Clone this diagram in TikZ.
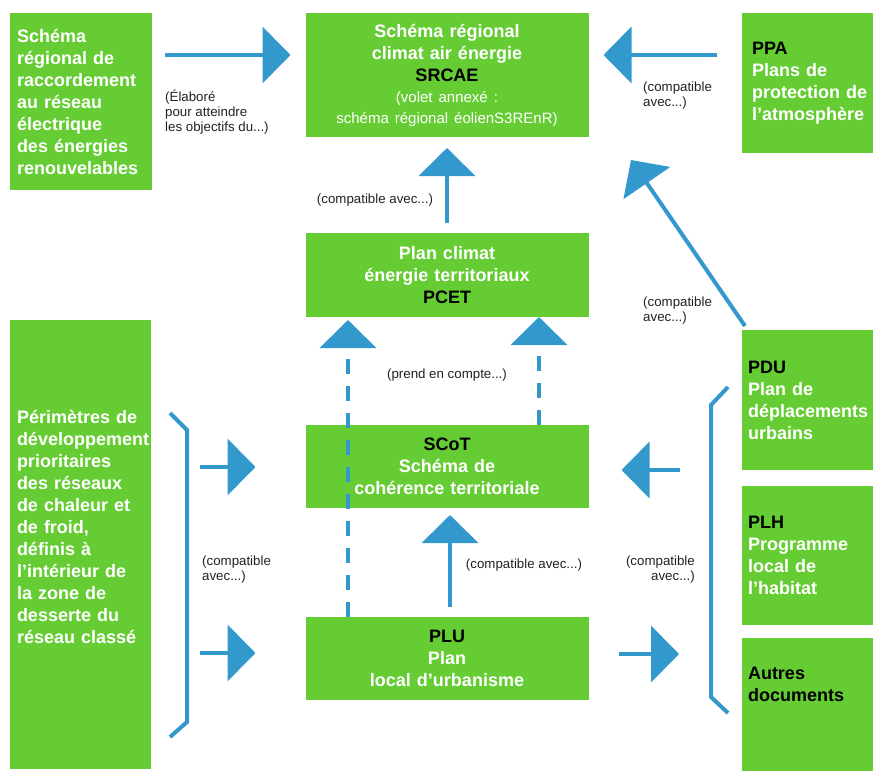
\documentclass[tikz,border=0pt]{standalone}
\usepackage{fontspec}
\setmainfont{Liberation Sans}
\usetikzlibrary{arrows.meta,calc}
\definecolor{boxgreen}{RGB}{102,204,51}
\definecolor{arrblue}{RGB}{51,153,204}
\definecolor{labgray}{RGB}{34,34,34}
\begin{document}
\begin{tikzpicture}[x=1pt,y=-1pt,
    doc/.style={rectangle,fill=boxgreen,anchor=north west,text=white,inner ysep=2pt,outer sep=0pt,font=\fontsize{18}{22}\selectfont\bfseries},
    docc/.style={doc,align=center,text width=271pt,inner xsep=6pt,minimum width=283pt},
    docl/.style={doc,align=left},
    lab/.style={inner sep=0pt,text=labgray,font=\fontsize{13.3}{15}\selectfont},
    arr/.style={draw=arrblue,line width=4pt,-{Triangle[length=28pt,width=56pt]}},
    darr/.style={arr,dash pattern=on 15pt off 12pt},
    brace/.style={draw=arrblue,line width=4pt}]
  \useasboundingbox (0,0) rectangle (873,771);
  \node[docl,text width=128pt,inner xsep=7pt,minimum width=142pt,minimum height=177pt] (srrr) at (10,13) {Schéma\\régional de\\raccordement\\au réseau\\électrique\\des énergies\\renouvelables};
  \node[docc,minimum height=124pt] (srcae) at (305.5,13) {Schéma régional\\climat air énergie\\\textcolor{black}{SRCAE}\par{\fontsize{15}{21}\selectfont\mdseries (volet annexé :\\schéma régional éolienS3REnR)\par}};
  \node[docl,text width=120pt,inner xsep=10pt,minimum width=140pt,minimum height=140pt] (ppa) at (742,13) {\textcolor{black}{PPA}\\Plans de\\protection de\\l’atmosphère};
  \node[docc,minimum height=84pt] (pcet) at (305.5,233) {Plan climat\\énergie territoriaux\\\textcolor{black}{PCET}};
  \node[docl,text width=127pt,inner xsep=7pt,minimum width=141pt,minimum height=449pt] (perim) at (10,320) {Périmètres de\\développement\\prioritaires\\des réseaux\\de chaleur et\\de froid,\\définis à\\l’intérieur de\\la zone de\\desserte du\\réseau classé\rule[-36pt]{0pt}{0pt}};
  \node[docc,minimum height=83pt] (scot) at (305.5,425) {\textcolor{black}{SCoT}\\Schéma de\\cohérence territoriale};
  \node[docc,minimum height=83pt] (plu) at (305.5,617) {\textcolor{black}{PLU}\\Plan\\local d’urbanisme};
  \node[docl,text width=128pt,inner xsep=6pt,minimum width=140pt,minimum height=140pt] (pdu) at (742,330) {\textcolor{black}{PDU}\\Plan de\\déplacements\\urbains};
  \node[docl,text width=128pt,inner xsep=6pt,minimum width=140pt,minimum height=139pt] (plh) at (742,486) {\textcolor{black}{PLH}\\Programme\\local de\\l’habitat};
  \node[docl,text width=128pt,inner xsep=6pt,minimum width=140pt,minimum height=133pt] (autres) at (742,638) {\textcolor{black}{Autres\\documents}\rule[-41pt]{0pt}{0pt}};

  \node[lab,anchor=north west,align=left] (elab) at (165,90) {(Élaboré\\pour atteindre\\les objectifs du...)};
  \node[lab,anchor=west,align=left] (cppa) at (643,96) {(compatible\\avec...)};
  \node[lab] (cpcet) at (375,200) {(compatible avec...)};
  \node[lab,anchor=west,align=left] (cpdu) at (643,311) {(compatible\\avec...)};
  \node[lab] (prend) at (447,375) {(prend en compte...)};
  \node[lab] (cplu) at (524,565) {(compatible avec...)};
  \node[lab,anchor=west,align=left] (cperim) at (202,570) {(compatible\\avec...)};
  \node[lab,anchor=east,align=right] (cdocs) at (695,570) {(compatible\\avec...)};

  \draw[arr,shorten <=13pt,shorten >=15pt] (srrr.east |- 0,55) -- (srcae.west |- 0,55);
  \draw[arr,shorten <=25pt,shorten >=15pt] (ppa.west |- 0,55) -- (srcae.east |- 0,55);
  \draw[arr,shorten <=10pt,shorten >=11pt] (pcet.north) -- (srcae.south);
  \coordinate (diagtip) at (631,160);
  \draw[arr] ([shift={(3,-4)}]pdu.north west) -- (diagtip);
  \draw[darr,shorten >=3pt] (plu.north -| 348,0) -- (pcet.south -| 348,0);
  \draw[darr] (scot.north -| 539,0) -- (pcet.south -| 539,0);
  \draw[arr,shorten <=10pt,shorten >=7pt] (plu.north -| 450,0) -- (scot.south -| 450,0);
  \draw[arr,shorten <=49pt,shorten >=50pt] (perim.east |- 0,467) -- (scot.west |- 0,467);
  \draw[arr,shorten <=49pt,shorten >=50pt] (perim.east |- 0,653) -- (plu.west |- 0,653);
  \draw[arr,shorten <=62pt,shorten >=33pt] (pdu.west |- 0,470) -- (scot.east |- 0,470);
  \draw[arr,shorten <=30pt,shorten >=63pt] (plu.east |- 0,654) -- (plh.west |- 0,654);

  \draw[brace] (170,413) -- (187,430) -- (187,722) -- (170,737);
  \draw[brace] (728,387) -- (711,405) -- (711,697) -- (728,713);
\end{tikzpicture}
\end{document}
